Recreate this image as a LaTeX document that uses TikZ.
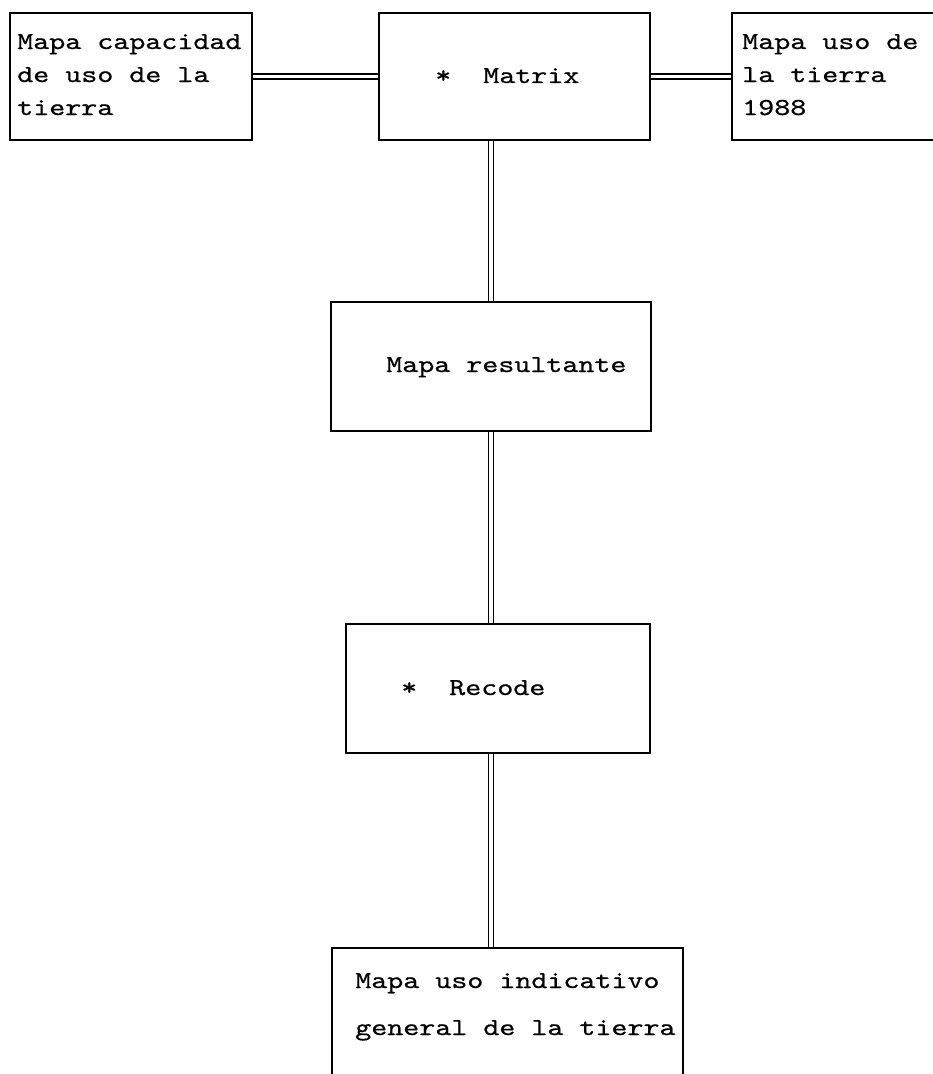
\documentclass[tikz,border=0pt]{standalone}
\usepackage{fontspec}
\setmonofont[FakeStretch=1.25, FakeBold=0.6]{lmmono10-regular.otf}
\usepackage{tikz}
\usetikzlibrary{positioning}
\pgfdeclarelayer{nodelayer}
\pgfdeclarelayer{edgelayer}
\pgfsetlayers{nodelayer,edgelayer,main}
\tikzset{
    box/.style = {draw, line width=1.1pt, inner sep=0pt},
    txt/.style = {inner sep=0pt, anchor=base west, align=left, font=\ttfamily\fontsize{18.3}{24.75}\selectfont},
    link/.style = {double, line width=1.2pt, double distance=2.4pt}
}

\begin{document}
\begin{tikzpicture}[x=0.75pt, y=-0.75pt]
    \useasboundingbox (0, 0) rectangle (932, 1074);
    \begin{pgfonlayer}{nodelayer}
        \node [style=box, minimum width=242*0.75pt, minimum height=127*0.75pt] (0) at (131, 76.5) {};
        \node [style=box, minimum width=271*0.75pt, minimum height=127*0.75pt] (1) at (514.5, 76.5) {};
        \node [style=box, minimum width=220*0.75pt, minimum height=127*0.75pt] (2) at (842, 76.5) {};
        \node [style=box, minimum width=320*0.75pt, minimum height=129*0.75pt] (3) at (491, 366.5) {};
        \node [style=box, minimum width=304*0.75pt, minimum height=129*0.75pt] (4) at (498, 688.5) {};
        \node [style=box, minimum width=351*0.75pt, minimum height=146*0.75pt] (5) at (507.5, 1021) {};
        % base of a multi-line text is its last line
        \node [style=txt] (6) at (17, 115) {Mapa capacidad\\de uso de la\\tierra};
        \node [style=txt] (7) at (435, 83) {*\ \ Matrix};
        \node [style=txt] (8) at (742, 115) {Mapa uso de\\la tierra\\1988};
        \node [style=txt] (9) at (386, 372) {Mapa resultante};
        \node [style=txt] (10) at (401, 695) {*\ \ Recode};
        \node [style=txt] (11) at (355, 1035) {Mapa uso indicativo\\[10.5pt]general de la tierra};
    \end{pgfonlayer}
    \begin{pgfonlayer}{edgelayer}
        \draw [style=link] (0.east) to (1.west);
        \draw [style=link] (1.east) to (2.west);
        \draw [style=link] (1.south -| 3.center) to (3.north);
        \draw [style=link] (3.south) to (4.north -| 3.center);
        \draw [style=link] (4.south -| 3.center) to (5.north -| 3.center);
    \end{pgfonlayer}
\end{tikzpicture}
\end{document}
